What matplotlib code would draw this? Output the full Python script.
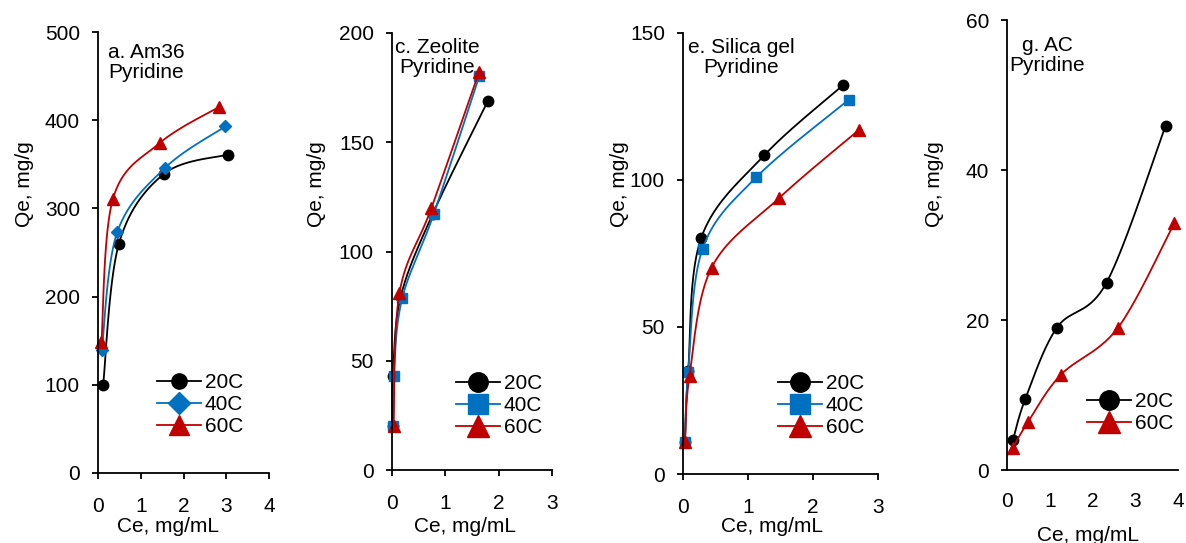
import numpy as np
import matplotlib
matplotlib.use("Agg")
import matplotlib.pyplot as plt
from matplotlib.lines import Line2D

plt.rcParams['font.family'] = ['Liberation Sans', 'DejaVu Sans']

W, H = 1186, 543

# a. Am36
am_x20 = [0.12, 0.49, 1.54, 3.03]
am_y20 = [100, 260, 339, 361]
am_x40 = [0.09, 0.45, 1.57, 2.98]
am_y40 = [140, 273, 346, 393]
am_x60 = [0.08, 0.35, 1.44, 2.83]
am_y60 = [148, 311, 374, 415]

# c. Zeolite
ze_x20 = [0.01, 0.02, 0.16, 0.76, 1.80]
ze_y20 = [20, 43, 79, 117, 169]
ze_x40 = [0.02, 0.03, 0.19, 0.78, 1.64]
ze_y40 = [20, 43, 78.5, 117, 180.5]
ze_x60 = [0.03, 0.14, 0.74, 1.63]
ze_y60 = [20, 81, 120, 182]

# e. Silica gel
si_x20 = [0.03, 0.08, 0.28, 1.25, 2.46]
si_y20 = [11, 35, 80.3, 108.4, 132.2]
si_x40 = [0.03, 0.08, 0.30, 1.13, 2.55]
si_y40 = [11, 34.8, 76.5, 101, 127.3]
si_x60 = [0.03, 0.10, 0.44, 1.48, 2.70]
si_y60 = [11, 33.4, 70.2, 93.9, 116.9]

# g. AC
ac_x20 = [0.14, 0.43, 1.17, 2.33, 3.71]
ac_y20 = [4.0, 9.5, 19.0, 25.0, 45.9]
ac_x60 = [0.14, 0.49, 1.26, 2.60, 3.91]
ac_y60 = [3.0, 6.4, 12.7, 19.0, 32.9]

BLACK = 'black'
BLUE = '#0070C0'
RED = '#C00000'
FS = 15


def smooth(xs, ys, xmax, ymax, wpx, hpx, n=40):
    # excel-like smoothed line, done in pixel space
    P = np.column_stack([np.array(xs) / xmax * wpx, np.array(ys) / ymax * hpx])
    t = np.linspace(0, 1, n)[:, None]
    segs = []
    for i in range(len(P) - 1):
        p0 = P[i - 1] if i > 0 else P[i]
        p1 = P[i]
        p2 = P[i + 1]
        p3 = P[i + 2] if i + 2 < len(P) else P[i + 1]
        c1 = p1 + (p2 - p0) / 6
        c2 = p2 - (p3 - p1) / 6
        seg = (1 - t) ** 3 * p1 + 3 * (1 - t) ** 2 * t * c1 + 3 * (1 - t) * t ** 2 * c2 + t ** 3 * p2
        segs.append(seg)
    S = np.vstack(segs)
    return S[:, 0] / wpx * xmax, S[:, 1] / hpx * ymax


fig = plt.figure(figsize=(W / 100, H / 100), dpi=100)


def make_axes(left, right, top, bottom):
    return fig.add_axes([left / W, 1 - bottom / H, (right - left) / W, (bottom - top) / H])


panels = [
    dict(box=(98, 269, 32, 473), xmax=4, ymax=500, ystep=100,
         series=[(am_x20, am_y20, BLACK, 'o', 7.5), (am_x40, am_y40, BLUE, 'D', 6.5), (am_x60, am_y60, RED, '^', 8.5)],
         labels=['20C', '40C', '60C'], leg_marks=[('o', 11), ('D', 11), ('^', 15)],
         title='a. Am36\nPyridine', title_xy=(146, 43), ylab_x=34, xlab_x=168, xlab_y=517,
         leg_xy=(157, 373), xticklen=4),
    dict(box=(392, 552, 33, 470), xmax=3, ymax=200, ystep=50,
         series=[(ze_x20, ze_y20, BLACK, 'o', 7.5), (ze_x40, ze_y40, BLUE, 's', 7.5), (ze_x60, ze_y60, RED, '^', 8.5)],
         labels=['20C', '40C', '60C'], leg_marks=[('o', 14), ('s', 14), ('^', 16)],
         title='c. Zeolite\nPyridine', title_xy=(437, 38), ylab_x=326, xlab_x=465, xlab_y=517,
         leg_xy=(456, 374), xticklen=4),
    dict(box=(683, 878, 33, 474), xmax=3, ymax=150, ystep=50,
         series=[(si_x20, si_y20, BLACK, 'o', 7.5), (si_x40, si_y40, BLUE, 's', 7.5), (si_x60, si_y60, RED, '^', 8.5)],
         labels=['20C', '40C', '60C'], leg_marks=[('o', 14), ('s', 14), ('^', 16)],
         title='e. Silica gel\nPyridine', title_xy=(741, 38), ylab_x=629, xlab_x=772, xlab_y=517,
         leg_xy=(778, 374), xticklen=4),
    dict(box=(1007, 1178, 20, 470), xmax=4, ymax=60, ystep=20,
         series=[(ac_x20, ac_y20, BLACK, 'o', 7.5), (ac_x60, ac_y60, RED, '^', 8.5)],
         labels=['20C', '60C'], leg_marks=[('o', 14), ('^', 16)],
         title='g. AC\nPyridine', title_xy=(1047, 36), ylab_x=944, xlab_x=1088, xlab_y=526,
         leg_xy=(1087, 392), xticklen=0),
]

for p in panels:
    left, right, top, bottom = p['box']
    ax = make_axes(left, right, top, bottom)
    wpx, hpx = right - left, bottom - top
    for xs, ys, col, mk, ms in p['series']:
        sx, sy = smooth(xs, ys, p['xmax'], p['ymax'], wpx, hpx)
        ax.plot(sx, sy, color=col, lw=1.3, clip_on=False)
        ax.plot(xs, ys, ls='none', marker=mk, color=col, ms=ms, mec=col, clip_on=False)

    ax.set_xlim(0, p['xmax'])
    ax.set_ylim(0, p['ymax'])
    ax.set_xticks(range(0, p['xmax'] + 1))
    ax.set_yticks(np.arange(0, p['ymax'] + 1, p['ystep']))
    for s in ['top', 'right']:
        ax.spines[s].set_visible(False)
    for s in ['left', 'bottom']:
        ax.spines[s].set_linewidth(1.3)
    ax.tick_params(axis='y', direction='out', length=4, width=1.3, labelsize=FS, pad=9)
    ax.tick_params(axis='x', direction='out', length=p['xticklen'], width=1.3, labelsize=FS,
                   pad=13 + (4 - p['xticklen']) * 0.72)
    ax.patch.set_alpha(0)

    ax.set_ylabel('Qe, mg/g', fontsize=FS)
    ax.yaxis.set_label_coords(p['ylab_x'] / W, 1 - 184 / H, transform=fig.transFigure)
    ax.set_xlabel('Ce, mg/mL', fontsize=FS)
    ax.xaxis.set_label_coords(p['xlab_x'] / W, 1 - p['xlab_y'] / H, transform=fig.transFigure)

    fig.text(p['title_xy'][0] / W, 1 - p['title_xy'][1] / H, p['title'], ha='center', va='top',
             multialignment='center', fontsize=FS, linespacing=1.08)

    handles = []
    for (xs, ys, col, mk, ms), (lmk, lms) in zip(p['series'], p['leg_marks']):
        handles.append(Line2D([], [], color=col, lw=1.3, marker=lmk, ms=lms, mec=col))
    ax.legend(handles, p['labels'], loc='upper left', frameon=False, fontsize=FS,
              bbox_to_anchor=(p['leg_xy'][0] / W, 1 - p['leg_xy'][1] / H),
              bbox_transform=fig.transFigure, borderpad=0, borderaxespad=0,
              handlelength=2.1, handletextpad=0.2, labelspacing=0.15)

fig.savefig('out.png', dpi=100)
